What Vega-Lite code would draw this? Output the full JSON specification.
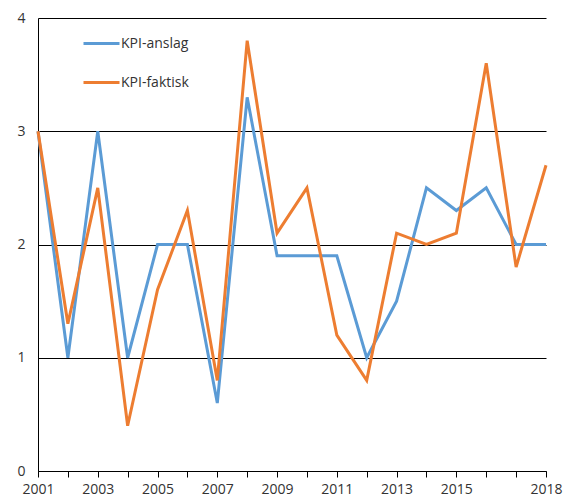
{
  "$schema": "https://vega.github.io/schema/vega-lite/v6.json",
  "autosize": "none",
  "width": 508,
  "height": 453,
  "padding": {"left": 38, "top": 18, "right": 20, "bottom": 29},
  "config": {
    "font": "Open Sans",
    "view": {"stroke": null},
    "axis": {"labelFont": "Open Sans", "labelFontSize": 14, "labelColor": "#333333"}
  },
  "data": {
    "values": [
      {"year": 2001, "series": "KPI-anslag", "value": 3.0},
      {"year": 2002, "series": "KPI-anslag", "value": 1.0},
      {"year": 2003, "series": "KPI-anslag", "value": 3.0},
      {"year": 2004, "series": "KPI-anslag", "value": 1.0},
      {"year": 2005, "series": "KPI-anslag", "value": 2.0},
      {"year": 2006, "series": "KPI-anslag", "value": 2.0},
      {"year": 2007, "series": "KPI-anslag", "value": 0.6},
      {"year": 2008, "series": "KPI-anslag", "value": 3.3},
      {"year": 2009, "series": "KPI-anslag", "value": 1.9},
      {"year": 2010, "series": "KPI-anslag", "value": 1.9},
      {"year": 2011, "series": "KPI-anslag", "value": 1.9},
      {"year": 2012, "series": "KPI-anslag", "value": 1.0},
      {"year": 2013, "series": "KPI-anslag", "value": 1.5},
      {"year": 2014, "series": "KPI-anslag", "value": 2.5},
      {"year": 2015, "series": "KPI-anslag", "value": 2.3},
      {"year": 2016, "series": "KPI-anslag", "value": 2.5},
      {"year": 2017, "series": "KPI-anslag", "value": 2.0},
      {"year": 2018, "series": "KPI-anslag", "value": 2.0},
      {"year": 2001, "series": "KPI-faktisk", "value": 3.0},
      {"year": 2002, "series": "KPI-faktisk", "value": 1.3},
      {"year": 2003, "series": "KPI-faktisk", "value": 2.5},
      {"year": 2004, "series": "KPI-faktisk", "value": 0.4},
      {"year": 2005, "series": "KPI-faktisk", "value": 1.6},
      {"year": 2006, "series": "KPI-faktisk", "value": 2.3},
      {"year": 2007, "series": "KPI-faktisk", "value": 0.8},
      {"year": 2008, "series": "KPI-faktisk", "value": 3.8},
      {"year": 2009, "series": "KPI-faktisk", "value": 2.1},
      {"year": 2010, "series": "KPI-faktisk", "value": 2.5},
      {"year": 2011, "series": "KPI-faktisk", "value": 1.2},
      {"year": 2012, "series": "KPI-faktisk", "value": 0.8},
      {"year": 2013, "series": "KPI-faktisk", "value": 2.1},
      {"year": 2014, "series": "KPI-faktisk", "value": 2.0},
      {"year": 2015, "series": "KPI-faktisk", "value": 2.1},
      {"year": 2016, "series": "KPI-faktisk", "value": 3.6},
      {"year": 2017, "series": "KPI-faktisk", "value": 1.8},
      {"year": 2018, "series": "KPI-faktisk", "value": 2.7}
    ]
  },
  "mark": {"type": "line", "strokeWidth": 3},
  "encoding": {
    "x": {
      "field": "year",
      "type": "quantitative",
      "scale": {"domain": [2001, 2018], "nice": false, "zero": false},
      "axis": {
        "title": null,
        "values": [2001, 2002, 2003, 2004, 2005, 2006, 2007, 2008, 2009, 2010, 2011, 2012, 2013, 2014, 2015, 2016, 2017, 2018],
        "format": "d",
        "labelExpr": "(datum.value == 2018 || (datum.value % 2 == 1 && datum.value < 2017)) ? datum.label : ''",
        "labelFlush": false,
        "labelOverlap": false,
        "grid": false,
        "domainColor": "#000000",
        "domainWidth": 1,
        "tickColor": "#000000",
        "tickSize": 6,
        "labelPadding": 5
      }
    },
    "y": {
      "field": "value",
      "type": "quantitative",
      "scale": {"domain": [0, 4], "nice": false},
      "axis": {
        "title": null,
        "values": [0, 1, 2, 3, 4],
        "ticks": false,
        "labelPadding": 13,
        "grid": true,
        "gridColor": "#000000",
        "gridWidth": 1,
        "gridOpacity": 1,
        "domainColor": "#000000",
        "domainWidth": 1
      }
    },
    "color": {
      "field": "series",
      "type": "nominal",
      "scale": {"domain": ["KPI-anslag", "KPI-faktisk"], "range": ["#5B9BD5", "#ED7D31"]},
      "legend": {
        "title": null,
        "orient": "none",
        "legendX": 44,
        "legendY": 6,
        "symbolType": "stroke",
        "symbolSize": 1296,
        "symbolStrokeWidth": 3,
        "labelFont": "Open Sans",
        "labelFontSize": 14,
        "labelColor": "#333333",
        "labelOffset": 0,
        "rowPadding": 12
      }
    }
  }
}
